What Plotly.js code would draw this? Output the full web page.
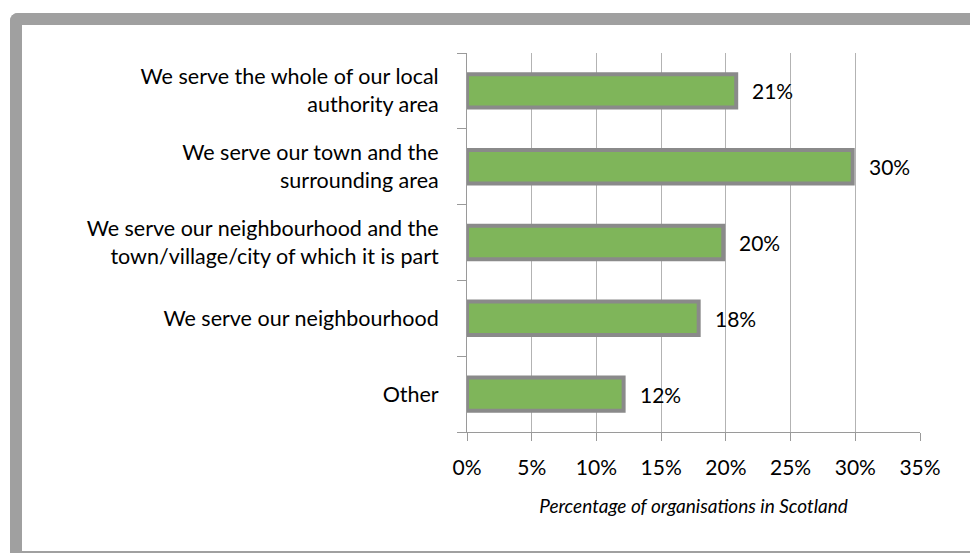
<!DOCTYPE html>
<html><head><meta charset="utf-8">
<script src="https://cdn.plot.ly/plotly-3.0.1.min.js"></script>
<style>
html,body{margin:0;padding:0;background:#fff;overflow:hidden;}
#wrap{position:relative;width:970px;height:553px;overflow:hidden;background:#fff;}
.bar{position:absolute;background:#a0a0a0;}
#chart{position:absolute;left:0;top:0;width:970px;height:553px;}
</style></head><body>
<div id="wrap">
  <div class="bar" style="left:10px;top:13px;width:960px;height:12px;border-top-left-radius:8px;"></div>
  <div class="bar" style="left:10px;top:13px;width:12px;height:540px;border-top-left-radius:8px;"></div>
  <div class="bar" style="left:10px;top:551px;width:960px;height:2px;"></div>
  <div id="chart"></div>
</div>
<script>
const categories = [
  "We serve the whole of our local<br>authority area",
  "We serve our town and the<br>surrounding area",
  "We serve our neighbourhood and the<br>town/village/city of which it is part",
  "We serve our neighbourhood",
  "Other"
];
const values = [20.8, 29.8, 19.8, 17.9, 12.1];
const valueLabels = ["21%", "30%", "20%", "18%", "12%"];
const xTickVals = [0, 5, 10, 15, 20, 25, 30, 35];
const xTickText = ["0%", "5%", "10%", "15%", "20%", "25%", "30%", "35%"];
const xTitle = "Percentage of organisations in Scotland";

const font = "Lato, 'Open Sans', sans-serif";

const trace = {
  type: "bar",
  orientation: "h",
  y: categories,
  x: values,
  width: 0.44,
  marker: {color: "#7fb55a", line: {color: "#8a8a8a", width: 4}},
  hoverinfo: "none"
};

const annotations = categories.map((c, i) => ({
  x: values[i], y: c, xref: "x", yref: "y",
  text: valueLabels[i], showarrow: false,
  xanchor: "left", xshift: 14,
  font: {family: font, size: 21, color: "#000"}
}));

const layout = {
  width: 970, height: 553,
  margin: {l: 467, r: 50, t: 53, b: 121},
  paper_bgcolor: "rgba(0,0,0,0)",
  plot_bgcolor: "rgba(0,0,0,0)",
  showlegend: false,
  xaxis: {
    range: [0, 35],
    tickvals: xTickVals, ticktext: xTickText,
    showgrid: true, gridcolor: "#b3b3b3", gridwidth: 1,
    zeroline: false,
    showline: true, linecolor: "#9a9a9a", linewidth: 1,
    ticks: "outside", ticklen: 8, tickcolor: "#9a9a9a",
    tickfont: {family: font, size: 21, color: "#000"},
    ticklabelstandoff: 9,
    title: {text: "<i>" + xTitle + "</i>", font: {family: font, size: 19, color: "#000"}, standoff: 21},
    fixedrange: true
  },
  yaxis: {
    type: "category",
    categoryorder: "array", categoryarray: categories.slice().reverse(),
    showgrid: false,
    showline: true, linecolor: "#9a9a9a", linewidth: 1,
    ticks: "outside", ticklen: 9, tickcolor: "#9a9a9a",
    tickson: "boundaries",
    tickfont: {family: font, size: 21.5, color: "#000"},
    ticklabelstandoff: 23,
    fixedrange: true
  },
  annotations: annotations
};

Plotly.newPlot("chart", [trace], layout, {displayModeBar: false, staticPlot: true});
</script>
</body></html>
